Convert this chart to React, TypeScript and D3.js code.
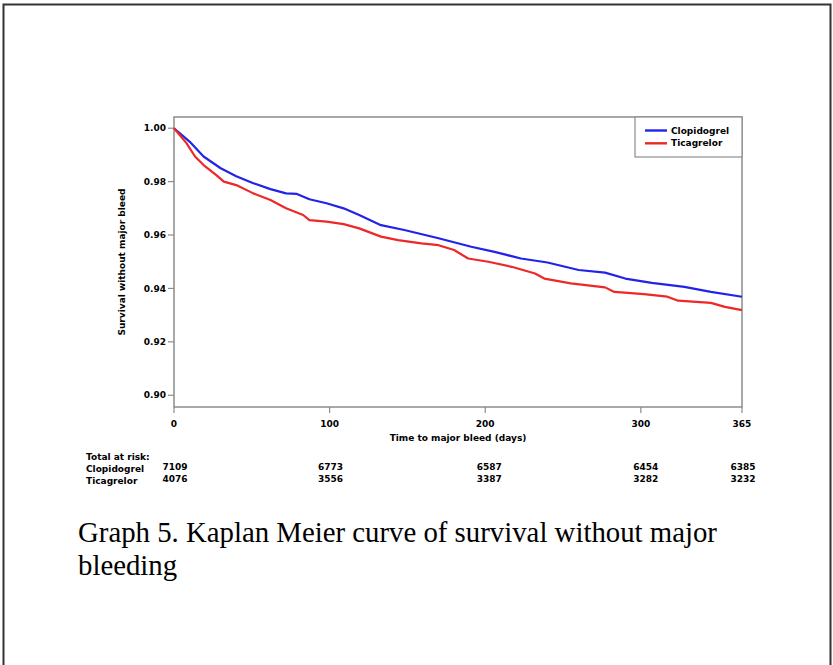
import React from 'react';
import * as d3 from 'd3';

// survival curves (day, survival)
const clopidogrelDays = [0, 10, 19, 30, 40, 51, 62, 72, 79, 87, 98, 109, 119, 133, 148, 170, 191, 206, 223, 240, 260, 277, 290, 307, 328, 345, 365];
const clopidogrelSurv = [1.0, 0.995, 0.9894, 0.985, 0.982, 0.9794, 0.9772, 0.9756, 0.9754, 0.9734, 0.9719, 0.970, 0.9675, 0.9637, 0.9619, 0.9588, 0.9556, 0.9537, 0.9512, 0.9497, 0.9469, 0.9459, 0.9437, 0.9421, 0.9406, 0.9387, 0.9369];

const ticagrelorDays = [0, 8, 13.5, 19, 27, 32, 40, 51, 62, 72, 83, 87, 98, 109, 119, 133, 144, 159, 170, 180, 189, 202, 217, 232, 238, 255, 277, 283, 302, 317, 324, 345, 354, 365];
const ticagrelorSurv = [1.0, 0.9944, 0.9894, 0.9862, 0.9825, 0.980, 0.9787, 0.9756, 0.9731, 0.970, 0.9675, 0.9656, 0.965, 0.9641, 0.9625, 0.9594, 0.9581, 0.9569, 0.9562, 0.9544, 0.9512, 0.950, 0.9481, 0.9456, 0.9437, 0.9419, 0.9404, 0.9387, 0.9379, 0.9369, 0.9354, 0.9346, 0.9331, 0.9319];

const xTicks = [0, 100, 200, 300, 365];
const yTicks = [0.90, 0.92, 0.94, 0.96, 0.98, 1.00];

const riskLabels = ['Clopidogrel', 'Ticagrelor'];
const riskClopidogrel = [7109, 6773, 6587, 6454, 6385];
const riskTicagrelor = [4076, 3556, 3387, 3282, 3232];

const SERIES = [
  { name: 'Clopidogrel', days: clopidogrelDays, surv: clopidogrelSurv, color: '#2323e8' },
  { name: 'Ticagrelor', days: ticagrelorDays, surv: ticagrelorSurv, color: '#ee2727' },
];

const W = 833, H = 665;
const plot = { left: 174, right: 742, top: 117, bottom: 407 };
const AXIS = '#8c8c8c';
const FONT = '"DejaVu Sans", Verdana, sans-serif';
const FS = 9;

export default function App() {
  const x = d3.scaleLinear().domain([0, 365]).range([plot.left, plot.right]);
  const y = d3.scaleLinear().domain([0.8956, 1.0042]).range([plot.bottom, plot.top]);

  const line = d3.line<[number, number]>()
    .x(d => x(d[0]))
    .y(d => y(d[1]))
    .curve(d3.curveLinear);

  const riskRows = [riskClopidogrel, riskTicagrelor];

  return (
    <svg width={W} height={H} style={{ position: 'absolute', left: 0, top: 0, background: '#fff' }}>
      {/* page frame */}
      <rect x={3.5} y={4.5} width={827} height={720} fill="none" stroke="#333" strokeWidth={2} />

      {/* plot box */}
      <rect x={plot.left} y={plot.top} width={plot.right - plot.left} height={plot.bottom - plot.top}
        fill="none" stroke={AXIS} strokeWidth={1.5} />

      {/* y axis */}
      {yTicks.map(t => (
        <g key={t}>
          <line x1={plot.left - 6} x2={plot.left} y1={y(t)} y2={y(t)} stroke={AXIS} strokeWidth={1.2} />
          <text x={plot.left - 8} y={y(t)} dy="0.35em" textAnchor="end" fontFamily={FONT}
            fontWeight="bold" fontSize={FS}>{t.toFixed(2)}</text>
        </g>
      ))}
      <text transform={`translate(122, ${(plot.top + plot.bottom) / 2}) rotate(-90)`} textAnchor="middle"
        dy="0.35em" fontFamily={FONT} fontWeight="bold" fontSize={FS}>Survival without major bleed</text>

      {/* x axis */}
      {xTicks.map(t => (
        <g key={t}>
          <line x1={x(t)} x2={x(t)} y1={plot.bottom} y2={plot.bottom + 6} stroke={AXIS} strokeWidth={1.2} />
          <text x={x(t)} y={424} dy="0.35em" textAnchor="middle" fontFamily={FONT}
            fontWeight="bold" fontSize={FS}>{t}</text>
        </g>
      ))}
      <text x={(plot.left + plot.right) / 2} y={438} dy="0.35em" textAnchor="middle" fontFamily={FONT}
        fontWeight="bold" fontSize={FS}>Time to major bleed (days)</text>

      {/* curves */}
      {SERIES.map(s => (
        <path key={s.name} d={line(s.days.map((d, i) => [d, s.surv[i]] as [number, number])) || ''}
          fill="none" stroke={s.color} strokeWidth={2.2} strokeLinejoin="round" />
      ))}

      {/* legend */}
      <rect x={635} y={plot.top} width={plot.right - 635} height={40} fill="#fff" stroke={AXIS} strokeWidth={1.2} />
      {SERIES.map((s, i) => (
        <g key={s.name}>
          <line x1={645} x2={667} y1={130.5 + i * 12.8} y2={130.5 + i * 12.8} stroke={s.color} strokeWidth={2.4} />
          <text x={671} y={130.5 + i * 12.8} dy="0.35em" fontFamily={FONT} fontWeight="bold" fontSize={FS}>{s.name}</text>
        </g>
      ))}

      {/* number at risk */}
      <text x={86} y={456.5} dy="0.35em" fontFamily={FONT} fontWeight="bold" fontSize={FS}>Total at risk:</text>
      {riskLabels.map((lab, r) => (
        <g key={lab}>
          <text x={86} y={468.5 + r * 12} dy="0.35em" fontFamily={FONT} fontWeight="bold" fontSize={FS}>{lab}</text>
          {riskRows[r].map((v, i) => (
            <text key={i} x={x(xTicks[i]) + (i === 2 ? 4 : i === 3 ? 5 : 1)} y={467 + r * 12} dy="0.35em"
              textAnchor="middle" fontFamily={FONT} fontWeight="bold" fontSize={FS}>{v}</text>
          ))}
        </g>
      ))}

      {/* caption */}
      <text x={78} y={542} fontFamily='"Liberation Serif", "Times New Roman", serif' fontSize={28.8}>
        Graph 5. Kaplan Meier curve of survival without major
      </text>
      <text x={78} y={575} fontFamily='"Liberation Serif", "Times New Roman", serif' fontSize={28.8}>
        bleeding
      </text>
    </svg>
  );
}
